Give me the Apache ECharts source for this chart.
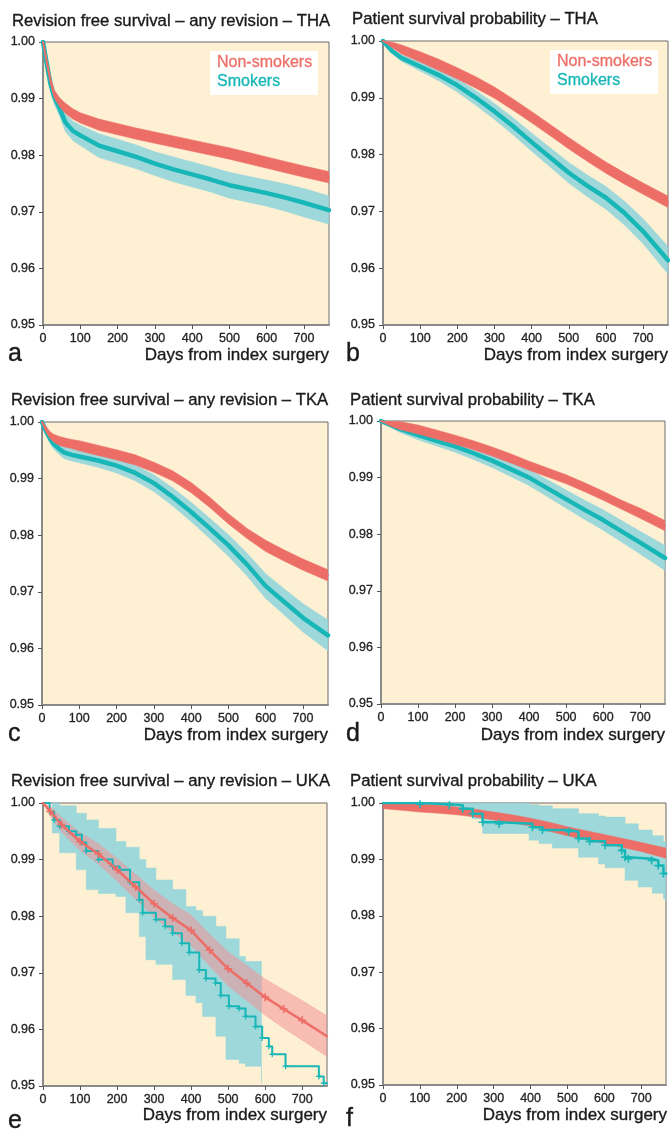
<!DOCTYPE html>
<html>
<head>
<meta charset="utf-8">
<script src="https://cdn.jsdelivr.net/npm/echarts@6/dist/echarts.min.js"></script>
<style>
html,body{margin:0;padding:0;background:#ffffff;}
#chart{width:670px;height:1130px;}
</style>
</head>
<body>
<div id="chart"></div>
<script>
// ---------- tick labels / text ----------
const X_TICKS = [0, 100, 200, 300, 400, 500, 600, 700];
const Y_TICKS = [0.95, 0.96, 0.97, 0.98, 0.99, 1.00];
const X_MAX = 767;
const TITLES = [
  'Revision free survival \u2013 any revision \u2013 THA',
  'Patient survival probability \u2013 THA',
  'Revision free survival \u2013 any revision \u2013 TKA',
  'Patient survival probability \u2013 TKA',
  'Revision free survival \u2013 any revision \u2013 UKA',
  'Patient survival probability \u2013 UKA'
];
const LETTERS = ['a', 'b', 'c', 'd', 'e', 'f'];
const X_NAME = 'Days from index surgery';
const LEGEND = ['Non-smokers', 'Smokers'];

// ---------- panel a: THA revision ----------
const DAYS_A = [0,10,20,30,45,60,80,100,150,200,250,300,350,400,450,500,550,600,650,700,767];
const NONSMOKER_A    = [1.0,0.9965,0.9932,0.9908,0.9893,0.9883,0.9873,0.9866,0.9854,0.9846,0.9838,0.9831,0.9824,0.9817,0.9810,0.9803,0.9795,0.9787,0.9779,0.9771,0.9761];
const NONSMOKER_A_HI = [1.0,0.9970,0.9938,0.9915,0.9901,0.9892,0.9882,0.9875,0.9864,0.9856,0.9848,0.9841,0.9834,0.9827,0.9820,0.9813,0.9805,0.9797,0.9789,0.9781,0.9771];
const NONSMOKER_A_LO = [1.0,0.9960,0.9926,0.9901,0.9885,0.9874,0.9864,0.9857,0.9844,0.9836,0.9828,0.9821,0.9814,0.9807,0.9800,0.9793,0.9785,0.9777,0.9769,0.9761,0.9751];
const SMOKER_A    = [1.0,0.9962,0.9926,0.9903,0.9882,0.9858,0.9843,0.9835,0.9817,0.9807,0.9797,0.9785,0.9775,0.9766,0.9757,0.9747,0.9740,0.9733,0.9725,0.9716,0.9703];
const SMOKER_A_HI = [1.0,0.9970,0.9938,0.9916,0.9896,0.9874,0.9860,0.9853,0.9838,0.9828,0.9818,0.9806,0.9797,0.9788,0.9779,0.9770,0.9763,0.9756,0.9749,0.9741,0.9728];
const SMOKER_A_LO = [1.0,0.9954,0.9914,0.9890,0.9868,0.9842,0.9826,0.9817,0.9796,0.9786,0.9776,0.9764,0.9753,0.9744,0.9735,0.9724,0.9717,0.9710,0.9701,0.9691,0.9678];

// ---------- panel b: THA patient survival ----------
const DAYS_B = [0,25,50,100,150,200,250,300,350,400,450,500,550,600,650,700,767];
const NONSMOKER_B    = [1.0,0.9993,0.9985,0.9972,0.9958,0.9943,0.9927,0.9909,0.9888,0.9866,0.9843,0.9820,0.9798,0.9777,0.9758,0.9740,0.9717];
const NONSMOKER_B_HI = [1.0,0.9998,0.9993,0.9981,0.9968,0.9953,0.9937,0.9919,0.9898,0.9876,0.9853,0.9830,0.9808,0.9787,0.9768,0.9750,0.9727];
const NONSMOKER_B_LO = [1.0,0.9988,0.9977,0.9963,0.9948,0.9933,0.9917,0.9899,0.9878,0.9856,0.9833,0.9810,0.9788,0.9767,0.9748,0.9730,0.9707];
const SMOKER_B    = [1.0,0.9982,0.9970,0.9955,0.9940,0.9922,0.9900,0.9876,0.9850,0.9822,0.9795,0.9768,0.9745,0.9724,0.9697,0.9665,0.9614];
const SMOKER_B_HI = [1.0,0.9986,0.9976,0.9963,0.9950,0.9934,0.9913,0.9890,0.9865,0.9838,0.9812,0.9786,0.9764,0.9744,0.9718,0.9687,0.9638];
const SMOKER_B_LO = [1.0,0.9978,0.9964,0.9947,0.9930,0.9910,0.9887,0.9862,0.9835,0.9806,0.9778,0.9750,0.9726,0.9704,0.9676,0.9643,0.9590];

// ---------- panel c: TKA revision ----------
const DAYS_C = [0,10,20,30,45,60,80,100,150,200,250,300,350,400,450,500,550,600,650,700,767];
const NONSMOKER_C    = [1.0,0.9988,0.9978,0.9972,0.9967,0.9964,0.9961,0.9958,0.9950,0.9942,0.9933,0.9920,0.9905,0.9884,0.9858,0.9829,0.9803,0.9781,0.9764,0.9748,0.9729];
const NONSMOKER_C_HI = [1.0,0.9993,0.9984,0.9979,0.9975,0.9972,0.9969,0.9967,0.9959,0.9951,0.9942,0.9929,0.9914,0.9893,0.9867,0.9838,0.9812,0.9791,0.9774,0.9758,0.9739];
const NONSMOKER_C_LO = [1.0,0.9983,0.9972,0.9965,0.9959,0.9956,0.9953,0.9949,0.9941,0.9933,0.9924,0.9911,0.9896,0.9875,0.9849,0.9820,0.9794,0.9771,0.9754,0.9738,0.9719];
const SMOKER_C    = [1.0,0.9985,0.9972,0.9962,0.9953,0.9946,0.9942,0.9939,0.9932,0.9923,0.9910,0.9892,0.9868,0.9841,0.9812,0.9782,0.9748,0.9710,0.9682,0.9654,0.9623];
const SMOKER_C_HI = [1.0,0.9990,0.9980,0.9971,0.9963,0.9957,0.9953,0.9950,0.9944,0.9936,0.9924,0.9907,0.9884,0.9858,0.9830,0.9801,0.9768,0.9732,0.9705,0.9679,0.9650];
const SMOKER_C_LO = [1.0,0.9980,0.9964,0.9953,0.9943,0.9935,0.9931,0.9928,0.9920,0.9910,0.9896,0.9877,0.9852,0.9824,0.9794,0.9763,0.9728,0.9688,0.9659,0.9629,0.9596];

// ---------- panel d: TKA patient survival ----------
const DAYS_D = [0,25,50,100,150,200,250,300,350,400,450,500,550,600,650,700,767];
const NONSMOKER_D    = [1.0,0.9996,0.9992,0.9985,0.9976,0.9967,0.9957,0.9946,0.9934,0.9921,0.9909,0.9897,0.9883,0.9868,0.9852,0.9837,0.9815];
const NONSMOKER_D_HI = [1.0,1.0,0.9999,0.9993,0.9984,0.9975,0.9965,0.9954,0.9942,0.9929,0.9917,0.9905,0.9891,0.9876,0.9860,0.9846,0.9824];
const NONSMOKER_D_LO = [1.0,0.9991,0.9985,0.9977,0.9968,0.9959,0.9949,0.9938,0.9926,0.9913,0.9901,0.9889,0.9875,0.9860,0.9844,0.9828,0.9806];
const SMOKER_D    = [1.0,0.9993,0.9986,0.9975,0.9965,0.9955,0.9943,0.9930,0.9915,0.9900,0.9881,0.9862,0.9843,0.9825,0.9805,0.9785,0.9758];
const SMOKER_D_HI = [1.0,0.9996,0.9992,0.9983,0.9974,0.9965,0.9954,0.9942,0.9928,0.9914,0.9896,0.9878,0.9860,0.9843,0.9824,0.9805,0.9780];
const SMOKER_D_LO = [1.0,0.9990,0.9980,0.9967,0.9956,0.9945,0.9932,0.9918,0.9902,0.9886,0.9866,0.9846,0.9826,0.9807,0.9786,0.9765,0.9736];

// ---------- panel e: UKA revision ----------
const DAYS_E = [0,20,50,100,150,200,250,300,350,400,450,500,550,600,650,700,767];
const NONSMOKER_E    = [1.0,0.9985,0.9962,0.9932,0.9910,0.9882,0.9852,0.9822,0.9797,0.9775,0.9740,0.9707,0.9682,0.9657,0.9636,0.9616,0.9588];
const NONSMOKER_E_HI = [1.0,0.9994,0.9975,0.9948,0.9928,0.9902,0.9874,0.9846,0.9822,0.9802,0.9768,0.9737,0.9713,0.9689,0.9670,0.9651,0.9624];
const NONSMOKER_E_LO = [1.0,0.9976,0.9949,0.9916,0.9892,0.9862,0.9830,0.9798,0.9772,0.9748,0.9712,0.9677,0.9651,0.9625,0.9602,0.9581,0.9552];
const SMOKER_E_DAYS = [0,18,30,45,70,90,105,117,150,188,207,235,260,269,305,330,350,375,395,422,440,466,480,502,529,547,574,592,610,619,655,745,758,767];
const SMOKER_E      = [1.0,0.9985,0.9970,0.9959,0.9950,0.9944,0.9930,0.9915,0.9900,0.9888,0.9882,0.9860,0.9829,0.9806,0.9794,0.9782,0.9770,0.9752,0.9736,0.9705,0.9690,0.9682,0.9660,0.9641,0.9637,0.9623,0.9605,0.9585,0.9570,0.9556,0.9535,0.9517,0.9505,0.9505];
const SMOKER_E_BAND_DAYS = [0,25,45,90,117,150,197,224,260,278,305,350,386,413,431,467,494,530,547,590];
const SMOKER_E_HI = [1.0,1.0,0.9995,0.9982,0.9970,0.9955,0.9932,0.9922,0.9900,0.9885,0.9864,0.9847,0.9817,0.9810,0.9800,0.9782,0.9760,0.9729,0.9720,0.9706];
const SMOKER_E_LO = [1.0,0.9947,0.9912,0.9882,0.9847,0.9840,0.9835,0.9806,0.9764,0.9723,0.9715,0.9688,0.9660,0.9647,0.9623,0.9588,0.9547,0.9540,0.9535,0.9505];

// ---------- panel f: UKA patient survival ----------
const DAYS_F = [0,50,100,150,200,250,300,350,400,450,500,550,600,650,700,767];
const NONSMOKER_F    = [0.9996,0.9993,0.9991,0.9989,0.9986,0.9982,0.9977,0.9972,0.9966,0.9958,0.9950,0.9943,0.9936,0.9929,0.9922,0.9911];
const NONSMOKER_F_HI = [1.0,0.9999,0.9998,0.9996,0.9993,0.9989,0.9984,0.9979,0.9973,0.9966,0.9958,0.9951,0.9944,0.9937,0.9930,0.9920];
const NONSMOKER_F_LO = [0.9990,0.9987,0.9984,0.9982,0.9979,0.9975,0.9970,0.9965,0.9959,0.9950,0.9942,0.9935,0.9928,0.9921,0.9914,0.9902];
const SMOKER_F_DAYS = [0,100,180,216,243,270,315,405,432,503,530,560,602,647,656,665,728,746,760,767];
const SMOKER_F      = [1.0,0.9998,0.9996,0.9990,0.9981,0.9966,0.9963,0.9957,0.9952,0.9949,0.9937,0.9932,0.9925,0.9916,0.9904,0.9901,0.9898,0.9889,0.9875,0.9874];
const SMOKER_F_BAND_DAYS = [0,100,216,243,270,396,423,459,530,584,602,656,692,730,760,767];
const SMOKER_F_HI = [1.0,1.0,1.0,1.0,1.0,0.9997,0.9995,0.9990,0.9981,0.9977,0.9975,0.9963,0.9952,0.9942,0.9931,0.9931];
const SMOKER_F_LO = [1.0,0.9993,0.9985,0.9972,0.9946,0.9934,0.9928,0.9920,0.9904,0.9892,0.9885,0.9863,0.9851,0.9840,0.9830,0.9825];

// ---------- styling ----------
const RED = '#EC6E67';
const TEAL = '#17B6B7';
const TEAL_BAND = 'rgba(142,212,218,0.85)';
const PINK_BAND = 'rgba(240,145,152,0.55)';
const BG = '#FEF0D3';
const FONT = '"Liberation Sans", Arial, Helvetica, sans-serif';
const INK = '#1a1a1a';
const PLUS = 'path://M4,0h2v10h-2zM0,4h10v2h-10z';

const GRIDS = [
  {left: 43, top: 42, width: 286, height: 283},
  {left: 383, top: 41, width: 285, height: 284},
  {left: 42, top: 422, width: 286, height: 283},
  {left: 381, top: 421, width: 284, height: 283},
  {left: 43, top: 803, width: 284, height: 283},
  {left: 383, top: 803, width: 283, height: 282}
];

function pairs(days, vals) { return days.map((d, i) => [d, vals[i]]); }

function bandSeries(idx, days, hi, lo, fill, step, z) {
  return {
    type: 'custom', xAxisIndex: idx, yAxisIndex: idx, silent: true, clip: true, z: z || 2,
    data: [[0, 1]],
    renderItem: function (params, api) {
      const up = [], dn = [];
      for (let j = 0; j < days.length; j++) {
        up.push(api.coord([days[j], hi[j]]));
        if (step && j + 1 < days.length) up.push(api.coord([days[j + 1], hi[j]]));
      }
      for (let j = days.length - 1; j >= 0; j--) {
        if (step && j + 1 < days.length) dn.push(api.coord([days[j + 1], lo[j]]));
        dn.push(api.coord([days[j], lo[j]]));
      }
      return {type: 'polygon', shape: {points: up.concat(dn)}, style: {fill: fill, stroke: fill, lineWidth: 0.5}};
    }
  };
}

function lineSeries(idx, days, vals, color, width, step, z) {
  return {
    type: 'line', xAxisIndex: idx, yAxisIndex: idx, data: pairs(days, vals),
    showSymbol: false, symbol: 'none', step: step || false, silent: true, z: z || 3,
    lineStyle: {color: color, width: width, join: 'round', cap: 'round'},
    animation: false
  };
}

function censorSeries(idx, days, vals, color, size, z) {
  return {
    type: 'scatter', xAxisIndex: idx, yAxisIndex: idx, silent: true, z: z || 4,
    data: pairs(days, vals).slice(1, -1), symbol: PLUS, symbolSize: size,
    itemStyle: {color: color, opacity: 1}, animation: false
  };
}

const series = [
  // a
  bandSeries(0, DAYS_A, SMOKER_A_HI, SMOKER_A_LO, TEAL_BAND, false),
  lineSeries(0, DAYS_A, SMOKER_A, TEAL, 4.5),
  bandSeries(0, DAYS_A, NONSMOKER_A_HI, NONSMOKER_A_LO, RED, false, 4),
  lineSeries(0, DAYS_A, NONSMOKER_A, RED, 2, false, 4),
  // b
  bandSeries(1, DAYS_B, SMOKER_B_HI, SMOKER_B_LO, TEAL_BAND, false),
  lineSeries(1, DAYS_B, SMOKER_B, TEAL, 4.5),
  bandSeries(1, DAYS_B, NONSMOKER_B_HI, NONSMOKER_B_LO, RED, false, 4),
  lineSeries(1, DAYS_B, NONSMOKER_B, RED, 2, false, 4),
  // c
  bandSeries(2, DAYS_C, SMOKER_C_HI, SMOKER_C_LO, TEAL_BAND, false),
  lineSeries(2, DAYS_C, SMOKER_C, TEAL, 4.5),
  bandSeries(2, DAYS_C, NONSMOKER_C_HI, NONSMOKER_C_LO, RED, false, 4),
  lineSeries(2, DAYS_C, NONSMOKER_C, RED, 2, false, 4),
  // d
  bandSeries(3, DAYS_D, SMOKER_D_HI, SMOKER_D_LO, TEAL_BAND, false),
  lineSeries(3, DAYS_D, SMOKER_D, TEAL, 4.5),
  bandSeries(3, DAYS_D, NONSMOKER_D_HI, NONSMOKER_D_LO, RED, false, 4),
  lineSeries(3, DAYS_D, NONSMOKER_D, RED, 2, false, 4),
  // e
  bandSeries(4, SMOKER_E_BAND_DAYS, SMOKER_E_HI, SMOKER_E_LO, TEAL_BAND, true),
  bandSeries(4, DAYS_E, NONSMOKER_E_HI, NONSMOKER_E_LO, PINK_BAND, false),
  lineSeries(4, SMOKER_E_DAYS, SMOKER_E, TEAL, 2, 'end'),
  censorSeries(4, SMOKER_E_DAYS, SMOKER_E, TEAL, 6, 3),
  lineSeries(4, DAYS_E, NONSMOKER_E, RED, 2.5, false, 4),
  censorSeries(4, DAYS_E, NONSMOKER_E, RED, 8, 5),
  // f
  bandSeries(5, SMOKER_F_BAND_DAYS, SMOKER_F_HI, SMOKER_F_LO, TEAL_BAND, true),
  bandSeries(5, DAYS_F, NONSMOKER_F_HI, NONSMOKER_F_LO, RED, false, 3),
  lineSeries(5, SMOKER_F_DAYS, SMOKER_F, TEAL, 2.5, 'end', 4),
  censorSeries(5, SMOKER_F_DAYS, SMOKER_F, TEAL, 8, 5)
];

const grids = GRIDS.map(g => Object.assign({show: true, backgroundColor: BG, borderColor: '#6b6b6b', borderWidth: 1}, g));

const labelStyle = {fontSize: 12.5, color: '#222', fontFamily: FONT, textBorderColor: '#222', textBorderWidth: 0.3};

const xAxes = GRIDS.map((g, i) => ({
  gridIndex: i, type: 'value', min: 0, max: X_MAX, interval: 100,
  axisLine: {show: true, onZero: false, lineStyle: {color: '#8a8a8a', width: 2}},
  axisTick: {show: true, length: 4, lineStyle: {color: '#555', width: 1}},
  axisLabel: Object.assign({margin: 7, showMaxLabel: false,
    formatter: v => X_TICKS.indexOf(v) >= 0 ? String(v) : ''}, labelStyle),
  splitLine: {show: false}
}));

const yAxes = GRIDS.map((g, i) => ({
  gridIndex: i, type: 'value', min: Y_TICKS[0], max: Y_TICKS[Y_TICKS.length - 1], interval: 0.01,
  axisLine: {show: true, onZero: false, lineStyle: {color: '#8a8a8a', width: 2}},
  axisTick: {show: true, length: 4, lineStyle: {color: '#555', width: 1}},
  axisLabel: Object.assign({margin: 8, formatter: v => v.toFixed(2)}, labelStyle),
  splitLine: {show: false}
}));

const TITLE_POS = [[7, 8], [347, 6], [6, 387], [345, 387], [6, 768], [345, 768]];
const titles = TITLES.map((t, i) => ({
  text: t, left: TITLE_POS[i][0], top: TITLE_POS[i][1],
  textStyle: {fontSize: 16.7, fontWeight: 'normal', color: INK, fontFamily: FONT, textBorderColor: INK, textBorderWidth: 0.35}
}));

const graphics = [];
// axis names and panel letters
const NAME_POS = [[329, 355], [668, 355], [328, 735], [665, 735], [327, 1115], [667, 1115]];
const LETTER_POS = [[8, 354], [346, 354], [8, 734], [346, 734], [8, 1121], [346, 1119]];
for (let i = 0; i < 6; i++) {
  graphics.push({type: 'text', silent: true, style: {text: X_NAME, x: NAME_POS[i][0], y: NAME_POS[i][1],
    textAlign: 'right', textVerticalAlign: 'middle', font: '17px ' + FONT, fill: INK, stroke: INK, lineWidth: 0.35}});
  graphics.push({type: 'text', silent: true, style: {text: LETTERS[i], x: LETTER_POS[i][0], y: LETTER_POS[i][1],
    textAlign: 'left', textVerticalAlign: 'middle', font: '25px ' + FONT, fill: INK, stroke: INK, lineWidth: 0.4}});
}
// legends in panels a and b
const LEG_BOX = [[210, 51], [550, 50]];
for (let k = 0; k < 2; k++) {
  const bx = LEG_BOX[k][0], by = LEG_BOX[k][1];
  graphics.push({type: 'rect', silent: true, z: 100, shape: {x: bx, y: by, width: 108, height: 44}, style: {fill: '#ffffff'}});
  graphics.push({type: 'text', silent: true, z: 101, style: {text: LEGEND[0], x: bx + 7, y: by + 12,
    textVerticalAlign: 'middle', font: '16px ' + FONT, fill: RED, stroke: RED, lineWidth: 0.3}});
  graphics.push({type: 'text', silent: true, z: 101, style: {text: LEGEND[1], x: bx + 7, y: by + 31,
    textVerticalAlign: 'middle', font: '16px ' + FONT, fill: TEAL, stroke: TEAL, lineWidth: 0.3}});
}

const chart = echarts.init(document.getElementById('chart'), null, {renderer: 'canvas'});
chart.setOption({
  animation: false,
  backgroundColor: '#ffffff',
  title: titles,
  grid: grids,
  xAxis: xAxes,
  yAxis: yAxes,
  series: series,
  graphic: graphics
});
</script>
</body>
</html>
